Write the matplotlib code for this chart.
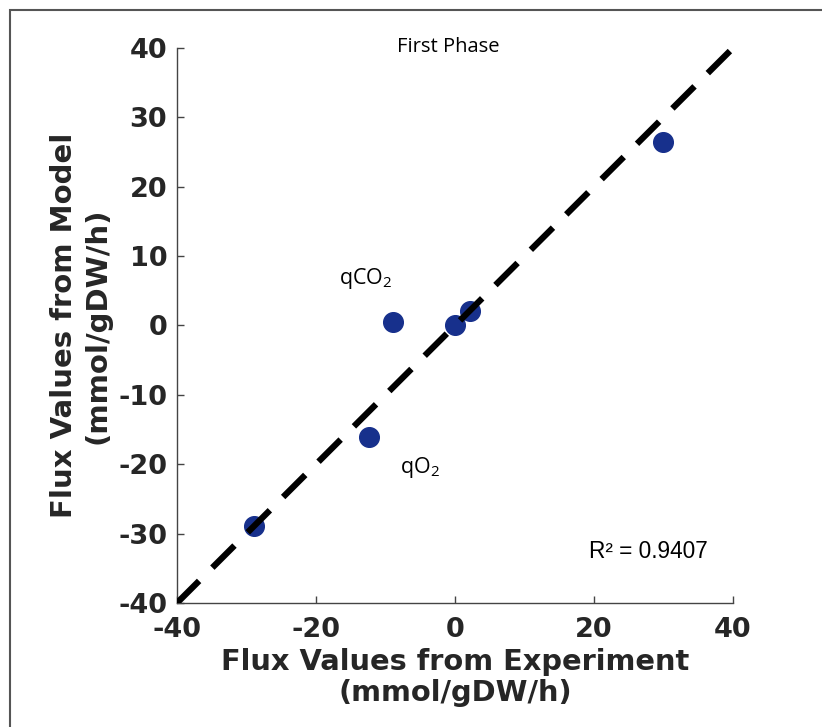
import matplotlib.pyplot as plt
from matplotlib.patches import Rectangle
from matplotlib import font_manager

plt.rcParams['mathtext.default'] = 'regular'
plt.rcParams['axes.unicode_minus'] = False

# measured vs model fluxes (mmol/gDW/h)
exp_flux = [30.0, -8.9, 0.0, 2.2, -12.4, -28.9]
model_flux = [26.4, 0.5, 0.0, 2.1, -16.1, -28.9]
r2 = 0.9407

xticks = [-40, -20, 0, 20, 40]
yticks = [-40, -30, -20, -10, 0, 10, 20, 30, 40]

# Arial-like font, avoid the Narrow variant
arial_file = None
for f in font_manager.fontManager.ttflist:
    if f.name == 'Liberation Sans' and 'Narrow' not in f.fname and f.weight == 400 \
            and f.style == 'normal':
        arial_file = f.fname
        break
arial = font_manager.FontProperties(fname=arial_file, size=16.3) if arial_file else \
    font_manager.FontProperties(family='DejaVu Sans', size=15)

fig = plt.figure(figsize=(8.22, 7.27), dpi=100)
ax = fig.add_axes([0.2153, 0.1706, 0.6764, 0.7634])

# outer frame
fig.patches.append(Rectangle((0.0122, -0.1), 1.2, 1.0862, transform=fig.transFigure,
                             fill=False, edgecolor='#555555', linewidth=1.5, clip_on=False))

ax.plot([-40, 40], [-40, 40], color='black', linewidth=4.5, dashes=(5, 3.0), zorder=3)
ax.scatter(exp_flux, model_flux, s=200, color='#17308c', zorder=2)

ax.set_xlim(-40, 40)
ax.set_ylim(-40, 40)
ax.set_xticks(xticks)
ax.set_yticks(yticks)
ax.spines['top'].set_visible(False)
ax.spines['right'].set_visible(False)
for s in ['left', 'bottom']:
    ax.spines[s].set_color('#444444')
    ax.spines[s].set_linewidth(1.0)
ax.tick_params(direction='in', length=5, width=1, colors='#444444', labelcolor='#262626',
               labelsize=19.5)
ax.tick_params(axis='x', pad=10)
ax.tick_params(axis='y', pad=7)
for lab in ax.get_xticklabels() + ax.get_yticklabels():
    lab.set_fontweight('bold')

ax.set_xlabel('Flux Values from Experiment\n(mmol/gDW/h)', fontsize=20.8, fontweight='bold',
              color='#262626', labelpad=4, linespacing=1.1)
ax.set_ylabel('Flux Values from Model\n(mmol/gDW/h)', fontsize=21, fontweight='bold',
              color='#262626', labelpad=5, linespacing=1.25)

ax.text(-1, 40.2, 'First Phase', ha='center', va='center', fontsize=14.5,
        family='Open Sans', color='black')
ax.text(-12.8, 6.8, 'qCO$_2$', ha='center', va='center', fontsize=15.5,
        family='Open Sans', color='black')
ax.text(-5.0, -20.4, 'qO$_2$', ha='center', va='center', fontsize=15.5,
        family='Open Sans', color='black')
ax.text(27.8, -32.6, 'R\u00b2 = ' + str(r2), ha='center', va='center',
        fontproperties=arial, color='black')

fig.savefig('out.png', dpi=100)
